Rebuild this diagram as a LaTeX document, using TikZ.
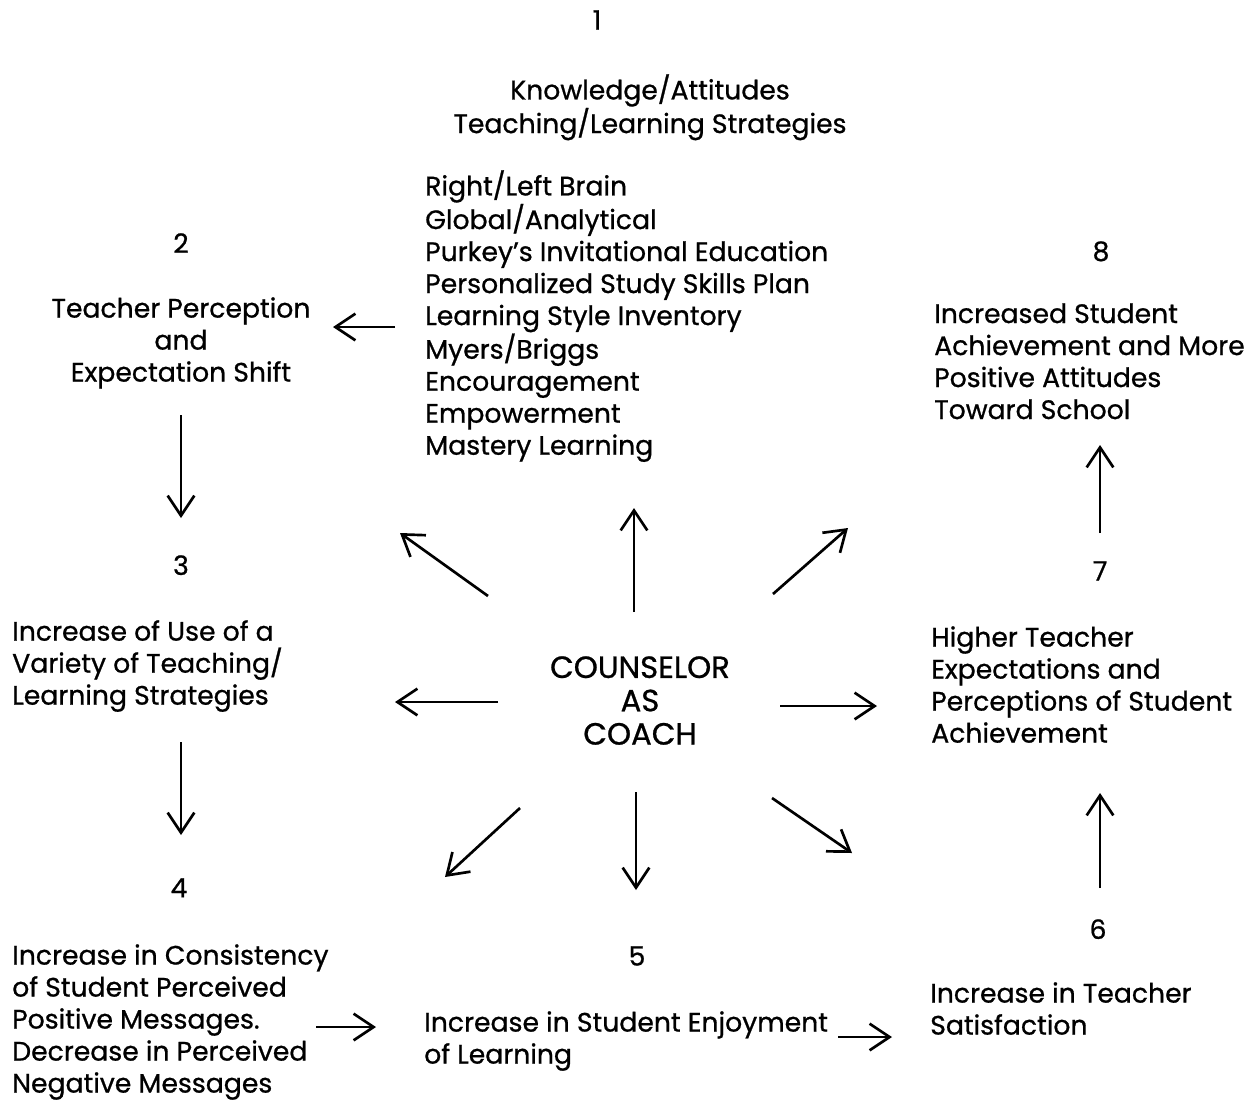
\documentclass[tikz,border=0pt]{standalone}
\usepackage{fontspec}
\setmainfont{Poppins}[FakeBold=0.8]
\usetikzlibrary{arrows.meta}
\tikzset{
  txt/.style={inner sep=0pt, font=\fontsize{20}{24}\selectfont},
  lbl/.style={txt, align=left, anchor=north west},
  clbl/.style={txt, align=center, anchor=north},
  num/.style={txt, anchor=north},
  arr/.style={line width=2pt, -{Straight Barb[length=15pt,width=20pt,line width=2pt]}}
}
\begin{document}
\begin{tikzpicture}[x=0.75pt,y=-0.75pt]
\useasboundingbox (0,0) rectangle (1253,1101);
% numbers
\node[num] (n1) at (597,10) {1};
\node[num] (n2) at (181,233) {2};
\node[num] (n3) at (181,555) {3};
\node[num] (n4) at (179,878) {4};
\node[num] (n5) at (637,946) {5};
\node[num] (n6) at (1098,919) {6};
\node[num] (n7) at (1100,561) {7};
\node[num] (n8) at (1101,241) {8};
% texts
\node[clbl] (head) at (650,74) {Knowledge/Attitudes\\Teaching/Learning Strategies};
\node[lbl] (list) at (425,170) {Right/Left Brain\\Global/Analytical\\Purkey's Invitational Education\\Personalized Study Skills Plan\\Learning Style Inventory\\Myers/Briggs\\Encouragement\\Empowerment\\Mastery Learning};
\node[clbl] (b2) at (181,297) {Teacher Perception\\and\\Expectation Shift};
\node[lbl] (b3) at (12,620) {Increase of Use of a\\Variety of Teaching/\\Learning Strategies};
\node[lbl] (b4) at (12,944) {Increase in Consistency\\of Student Perceived\\Positive Messages.\\Decrease in Perceived\\Negative Messages};
\node[lbl] (b5) at (424,1011) {Increase in Student Enjoyment\\of Learning};
\node[lbl] (b6) at (930,982) {Increase in Teacher\\Satisfaction};
\node[lbl] (b7) at (931,626) {Higher Teacher\\Expectations and\\Perceptions of Student\\Achievement};
\node[lbl] (b8) at (934,303) {Increased Student\\Achievement and More\\Positive Attitudes\\Toward School};
\node[clbl, font=\fontsize{23}{25}\selectfont] (coach) at (640,656) {COUNSELOR\\AS\\COACH};
% arrow endpoints
\coordinate (a2s) at (395,327); \coordinate (a2e) at (333,327);
\coordinate (a23s) at (181,415); \coordinate (a23e) at (181,518);
\coordinate (a34s) at (181,742); \coordinate (a34e) at (181,835);
\coordinate (a45s) at (316,1027); \coordinate (a45e) at (376,1027);
\coordinate (a56s) at (838,1037); \coordinate (a56e) at (892,1037);
\coordinate (a67s) at (1100,888); \coordinate (a67e) at (1100,793);
\coordinate (a78s) at (1100,533); \coordinate (a78e) at (1100,445);
% spokes
\coordinate (sUs) at (634,612); \coordinate (sUe) at (634,508);
\coordinate (sULs) at (488,596); \coordinate (sULe) at (400,533);
\coordinate (sURs) at (773,594); \coordinate (sURe) at (848,528);
\coordinate (sLs) at (498,702); \coordinate (sLe) at (395,702);
\coordinate (sRs) at (780,706); \coordinate (sRe) at (877,706);
\coordinate (sDLs) at (520,808); \coordinate (sDLe) at (445,877);
\coordinate (sDs) at (636,792); \coordinate (sDe) at (636,890);
\coordinate (sDRs) at (772,798); \coordinate (sDRe) at (852,853);
\draw[arr] (a2s) -- (a2e);
\draw[arr] (a23s) -- (a23e);
\draw[arr] (a34s) -- (a34e);
\draw[arr] (a45s) -- (a45e);
\draw[arr] (a56s) -- (a56e);
\draw[arr] (a67s) -- (a67e);
\draw[arr] (a78s) -- (a78e);
\draw[arr] (sUs) -- (sUe);
\draw[arr] (sULs) -- (sULe);
\draw[arr] (sURs) -- (sURe);
\draw[arr] (sLs) -- (sLe);
\draw[arr] (sRs) -- (sRe);
\draw[arr] (sDLs) -- (sDLe);
\draw[arr] (sDs) -- (sDe);
\draw[arr] (sDRs) -- (sDRe);
\end{tikzpicture}
\end{document}
